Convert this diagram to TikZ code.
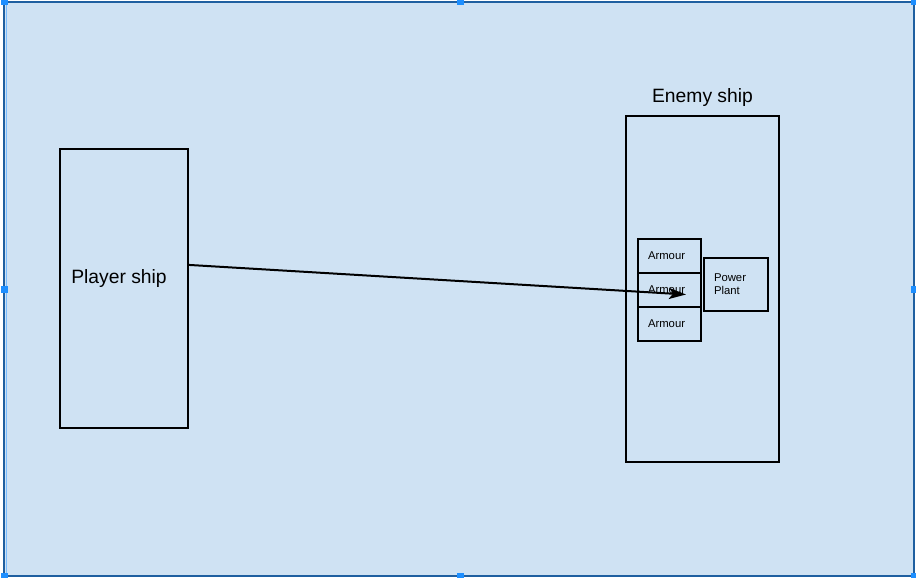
\documentclass[tikz,border=0pt]{standalone}
\usepackage{fontspec}
\setmainfont{Liberation Sans}
\usetikzlibrary{arrows.meta,positioning,calc}
\definecolor{canvasbg}{HTML}{CFE2F3}
\definecolor{frameblue}{HTML}{1F5FA0}
\definecolor{handleblue}{HTML}{1E8FFF}

\begin{document}
\begin{tikzpicture}[x=1pt,y=-1pt,
      shipbox/.style={draw, line width=1.6pt, inner sep=0pt},
      partbox/.style={draw, line width=2pt, inner xsep=10pt, inner ysep=0pt, outer sep=0pt, align=left, font=\fontsize{11.3}{13}\selectfont},
      handle/.style={fill=handleblue, draw=none, minimum size=7pt, inner sep=0pt},
      shiplabel/.style={font=\fontsize{19.3}{22}\selectfont}]
      \useasboundingbox (0,0) rectangle (916,578);
      % canvas
      \node[fill=canvasbg, draw=frameblue, line width=2.5pt, minimum width=910pt, minimum height=574pt, inner sep=0pt] (canvas) at (459,289) {};
      \draw[handleblue!60, line width=1pt] (canvas.north west) ++(4,0) -- ++(0,574);
      \foreach \hx/\hy [count=\i] in {4/2, 460/2, 914/2, 4/289, 914/289, 4/576, 460/576, 914/576}
         \node[handle] (h\i) at (\hx,\hy) {};
      % player
      \node[shipbox, minimum width=128pt, minimum height=279pt] (player) at (124,288.5) {};
      \node[shiplabel] (playerlbl) at (119,279) {Player ship};
      % enemy
      \node[shipbox, minimum width=153pt, minimum height=346pt] (enemy) at (702.5,289) {};
      \node[shiplabel, above=5.5pt of enemy] (enemylbl) {Enemy ship};
      \node[partbox, text width=43pt, minimum height=34pt] (armour1) at (669.5,255.5) {Armour};
      \node[partbox, text width=43pt, minimum height=34pt, below=0pt of armour1] (armour2) {Armour};
      \node[partbox, text width=43pt, minimum height=34pt, below=0pt of armour2] (armour3) {Armour};
      \node[partbox, text width=44pt, minimum height=53pt] (power) at (736,284.5) {Power\\Plant};
      % shot
      \coordinate (hit) at ($(armour2.center)+(16.5,5)$);
      \draw[line width=2pt, -{Stealth[length=17pt,width=11pt,inset=4pt]}] (player.20) -- (hit);
\end{tikzpicture}
\end{document}
